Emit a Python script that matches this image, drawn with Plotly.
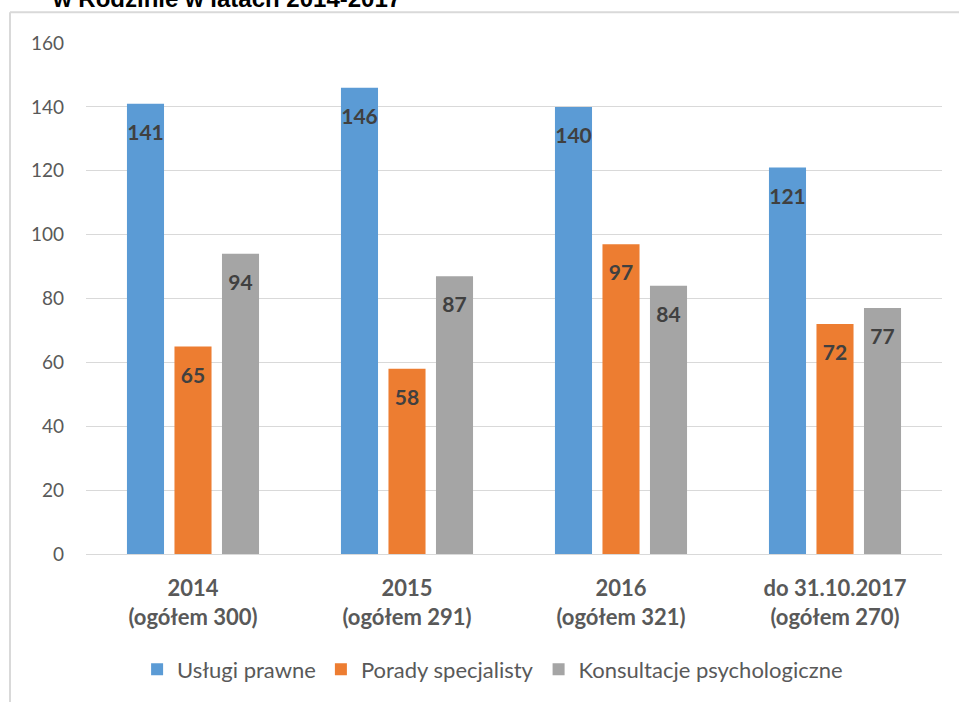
import plotly.graph_objects as go

categories = ["2014<br>(ogółem 300)", "2015<br>(ogółem 291)", "2016<br>(ogółem 321)", "do 31.10.2017<br>(ogółem 270)"]
series_names = ["Usługi prawne", "Porady specjalisty", "Konsultacje psychologiczne"]
uslugi = [141, 146, 140, 121]
porady = [65, 58, 97, 72]
konsultacje = [94, 87, 84, 77]
colors = ["#5B9BD5", "#ED7D31", "#A5A5A5"]
y_ticks = [0, 20, 40, 60, 80, 100, 120, 140, 160]
title_text = "w Rodzinie w latach 2014-2017"

FONT = "Lato"
W, H = 959, 702
ML, MR, MT, MB = 86, 17, 43, 145

fig = go.Figure()
for i, (name, vals) in enumerate(zip(series_names, [uslugi, porady, konsultacje])):
    fig.add_trace(go.Bar(
        x=categories, y=vals, name=name,
        marker=dict(color=colors[i], line=dict(width=0)),
        offsetgroup=str(i), alignmentgroup="a",
        hoverinfo="skip",
    ))
for i, (name, vals) in enumerate(zip(series_names, [uslugi, porady, konsultacje])):
    fig.add_trace(go.Scatter(
        x=categories, y=vals, mode="markers+text", text=[str(v) for v in vals],
        textposition="bottom center",
        marker=dict(size=31, color="rgba(0,0,0,0)", line=dict(width=0)),
        textfont=dict(family=FONT, size=21, color="#404040", weight="bold"),
        offsetgroup=str(i), alignmentgroup="a",
        showlegend=False, hoverinfo="skip",
    ))

plot_h = H - MT - MB
plot_w = W - ML - MR
top_y = 1 + (MT - 12) / plot_h
left_x = (10 - ML) / plot_w
bot_y = -(MB) / plot_h

fig.update_layout(
    width=W, height=H,
    margin=dict(l=ML, r=MR, t=MT, b=MB),
    paper_bgcolor="white", plot_bgcolor="white",
    barmode="group", bargap=0.334, bargroupgap=0.22,
    scattermode="group", scattergap=0.334,
    font=dict(family=FONT, color="#595959"),
    xaxis=dict(
        showgrid=False, showline=False, zeroline=False,
        tickfont=dict(family=FONT, size=22, color="#595959", weight="bold"),
        ticks="", fixedrange=True, ticklabelstandoff=19,
    ),
    yaxis=dict(
        range=[0, 160], tickvals=y_ticks, showgrid=True, gridcolor="#D9D9D9", gridwidth=1.3,
        zeroline=True, zerolinecolor="#D9D9D9", zerolinewidth=1.3,
        showline=False, ticks="", ticklabelstandoff=21, fixedrange=True,
        tickfont=dict(family=FONT, size=19, color="#595959"),
    ),
    legend=dict(
        orientation="h", x=0.475, xanchor="center", y=-0.226, yanchor="middle",
        font=dict(family=FONT, size=22, color="#595959"),
        traceorder="normal",
    ),
    shapes=[
        dict(type="line", xref="paper", yref="paper", x0=left_x, x1=(W - ML) / plot_w + 0.01,
             y0=top_y, y1=top_y, line=dict(color="#D9D9D9", width=2)),
        dict(type="line", xref="paper", yref="paper", x0=left_x, x1=left_x,
             y0=top_y, y1=bot_y - 0.05, line=dict(color="#D9D9D9", width=2)),
    ],
    annotations=[
        dict(text=title_text, xref="paper", yref="paper", x=(50 - ML) / plot_w, xanchor="left",
             y=1 + (MT - 14) / plot_h, yanchor="bottom", showarrow=False,
             font=dict(family="Liberation Sans", size=24, color="#000000", weight="bold")),
    ],
)

fig.write_html("out.html", config={"displayModeBar": False},
               post_script="document.body.style.margin='0';document.body.style.overflow='hidden';")
